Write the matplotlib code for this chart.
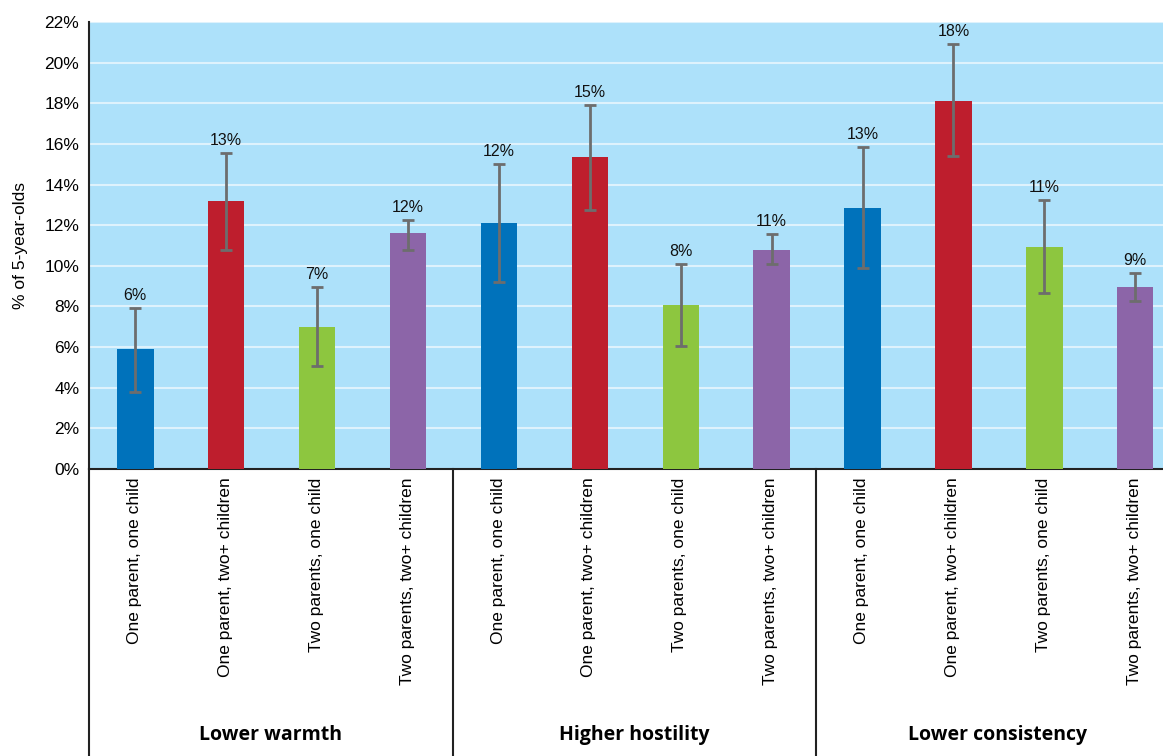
import matplotlib
matplotlib.use('Agg')
import matplotlib.pyplot as plt
import matplotlib.transforms as mtrans
import numpy as np

plt.rcParams['font.family'] = ['Liberation Sans', 'DejaVu Sans']

groups = ['Lower warmth', 'Higher hostility', 'Lower consistency']
categories = ['One parent, one child', 'One parent, two+ children',
              'Two parents, one child', 'Two parents, two+ children']
values = [5.9, 13.2, 7.0, 11.6,
          12.1, 15.35, 8.05, 10.8,
          12.85, 18.1, 10.95, 8.95]
err_low = [3.8, 10.8, 5.05, 10.8,
           9.2, 12.75, 6.05, 10.1,
           9.9, 15.4, 8.65, 8.25]
err_high = [7.9, 15.55, 8.95, 12.25,
            15.0, 17.9, 10.1, 11.55,
            15.85, 20.9, 13.25, 9.65]
labels = ['6%', '13%', '7%', '12%',
          '12%', '15%', '8%', '11%',
          '13%', '18%', '11%', '9%']
colors = ['#0072bb', '#be1e2d', '#8dc63f', '#8c65a8']

fig = plt.figure(figsize=(11.63, 7.56), dpi=100)
ax = fig.add_axes([89/1163, (756-469)/756, 1 - 89/1163, (469-22)/756])
ax.set_facecolor('#ade1fa')

x = np.arange(len(values))
bar_colors = [colors[i % 4] for i in range(len(values))]
ax.bar(x + 0.01, values, width=0.4, color=bar_colors, zorder=3)
yerr = [np.array(values) - np.array(err_low), np.array(err_high) - np.array(values)]
ax.errorbar(x + 0.01, values, yerr=yerr, fmt='none', ecolor='#6d6d6d',
            elinewidth=2, capsize=4.5, capthick=2, zorder=4)
for xi, top, lab in zip(x, err_high, labels):
    ax.text(xi + 0.01, top + 0.25, lab, ha='center', va='bottom', fontsize=11.5,
            color='#111111', zorder=5)

ax.set_xlim(-0.5, (1163 - 89) / 90.9 - 0.5)
ax.set_ylim(0, 22)
ax.set_yticks(np.arange(0, 23, 2))
ax.set_yticklabels([f'{v}%' for v in range(0, 23, 2)], fontsize=12.5)
ax.yaxis.grid(True, color='white', alpha=0.6, lw=1.5, zorder=1)
ax.set_axisbelow(True)
ax.tick_params(axis='y', length=0, pad=7)
ax.set_xticks(x)
ax.set_xticklabels(categories * 3, rotation=90, fontsize=12.5)
ax.tick_params(axis='x', length=0, pad=6)
ax.set_ylabel('% of 5-year-olds', fontsize=12.5, labelpad=12)

for s in ['top', 'right']:
    ax.spines[s].set_visible(False)
ax.spines['left'].set_color('#222222')
ax.spines['bottom'].set_color('#222222')
ax.spines['left'].set_linewidth(1.5)
ax.spines['bottom'].set_linewidth(1.5)

trans = mtrans.blended_transform_factory(ax.transData, ax.transAxes)
bottom_frac = -(756 - 469) / 447
for sep in [-0.5, 3.5, 7.5]:
    ax.plot([sep, sep], [0, bottom_frac - 0.01], color='#222222', lw=1.5,
            transform=trans, clip_on=False)
for gi, g in enumerate(groups):
    ax.text(gi * 4 + 1.5, -(735 - 469) / 447, g, transform=trans, ha='center', va='center',
            fontsize=14, fontweight='bold', family=['Open Sans', 'DejaVu Sans'])

fig.savefig('out.png', dpi=100)
